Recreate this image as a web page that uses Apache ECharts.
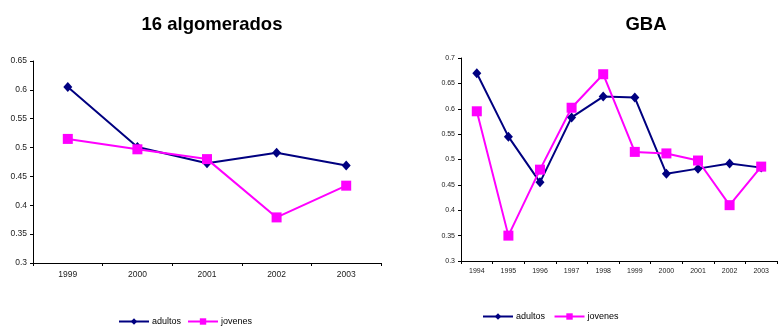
<!DOCTYPE html>
<html>
<head>
<meta charset="utf-8">
<script src="https://cdn.jsdelivr.net/npm/echarts@6/dist/echarts.min.js"></script>
<style>html,body{margin:0;padding:0;background:#fff}#c{width:778px;height:329px}</style>
</head>
<body>
<div id="c"></div>
<script>
const yearsA = ['1999','2000','2001','2002','2003'];
const adultosA = [0.605, 0.501, 0.473, 0.491, 0.469];
const jovenesA = [0.515, 0.497, 0.480, 0.379, 0.434];

const yearsB = ['1994','1995','1996','1997','1998','1999','2000','2001','2002','2003'];
const adultosB = [0.670, 0.545, 0.455, 0.583, 0.624, 0.622, 0.472, 0.482, 0.492, 0.484];
const jovenesB = [0.595, 0.350, 0.480, 0.602, 0.668, 0.515, 0.512, 0.498, 0.410, 0.486];

const titleA = '16 algomerados';
const titleB = 'GBA';
const NAVY = '#000080', MAG = '#FF00FF';
const FONT = '"Liberation Sans", Arial, sans-serif';

const chart = echarts.init(document.getElementById('c'), null, {renderer: 'canvas'});

function xAx(gi, data, fs) {
  return {
    type: 'category', gridIndex: gi, data: data, boundaryGap: true,
    axisLine: {lineStyle: {color: '#000', width: 1}},
    axisTick: {show: true, length: 3, lineStyle: {color: '#000'}},
    axisLabel: {color: '#222', fontSize: fs, fontFamily: FONT, margin: 7},
    splitLine: {show: false}
  };
}
function yAx(gi, min, max, fs) {
  return {
    type: 'value', gridIndex: gi, min: min, max: max, interval: 0.05,
    axisLine: {show: true, lineStyle: {color: '#000', width: 1}},
    axisTick: {show: true, length: 3, lineStyle: {color: '#000'}},
    axisLabel: {color: '#222', fontSize: fs, fontFamily: FONT, margin: 6,
      formatter: v => String(Math.round(v * 100) / 100)},
    splitLine: {show: false}
  };
}
function ser(name, data, gi, color, sym, size) {
  return {
    name: name, type: 'line', xAxisIndex: gi, yAxisIndex: gi, data: data,
    symbol: sym, symbolSize: size, showSymbol: true,
    lineStyle: {color: color, width: 2}, itemStyle: {color: color, borderWidth: 0},
    emphasis: {disabled: true}, animation: false
  };
}

chart.setOption({
  animation: false,
  title: [
    {text: titleA, left: 207, top: 10, textAlign: 'center',
     textStyle: {fontFamily: FONT, fontWeight: 'bold', fontSize: 18.5, color: '#000'}},
    {text: titleB, left: 641, top: 10, textAlign: 'center',
     textStyle: {fontFamily: FONT, fontWeight: 'bold', fontSize: 18.5, color: '#000'}}
  ],
  grid: [
    {left: 33, right: 397, top: 61, bottom: 66, containLabel: false},
    {left: 461, right: 1, top: 58, bottom: 68, containLabel: false}
  ],
  xAxis: [xAx(0, yearsA, 8.5), xAx(1, yearsB, 7)],
  yAxis: [yAx(0, 0.3, 0.65, 8.5), yAx(1, 0.3, 0.7, 7)],
  legend: [
    {seriesIndex: [0,1], data: ['adultos','jovenes'], left: 118, top: 317, itemWidth: 30, itemHeight: 8, itemGap: 6,
     textStyle: {fontFamily: FONT, fontSize: 9, color: '#000', padding: [0,0,0,-2]}, padding: 0,
     selectedMode: false},
    {data: ['adultos ','jovenes '], left: 482, top: 312, itemWidth: 30, itemHeight: 8, itemGap: 6,
     textStyle: {fontFamily: FONT, fontSize: 9, color: '#000', padding: [0,0,0,-2]}, padding: 0,
     selectedMode: false}
  ],
  series: [
    ser('adultos', adultosA, 0, NAVY, 'diamond', [9, 10]),
    ser('jovenes', jovenesA, 0, MAG, 'rect', [10, 10]),
    ser('adultos ', adultosB, 1, NAVY, 'diamond', [9, 10]),
    ser('jovenes ', jovenesB, 1, MAG, 'rect', [10, 10])
  ]
});
</script>
</body>
</html>
